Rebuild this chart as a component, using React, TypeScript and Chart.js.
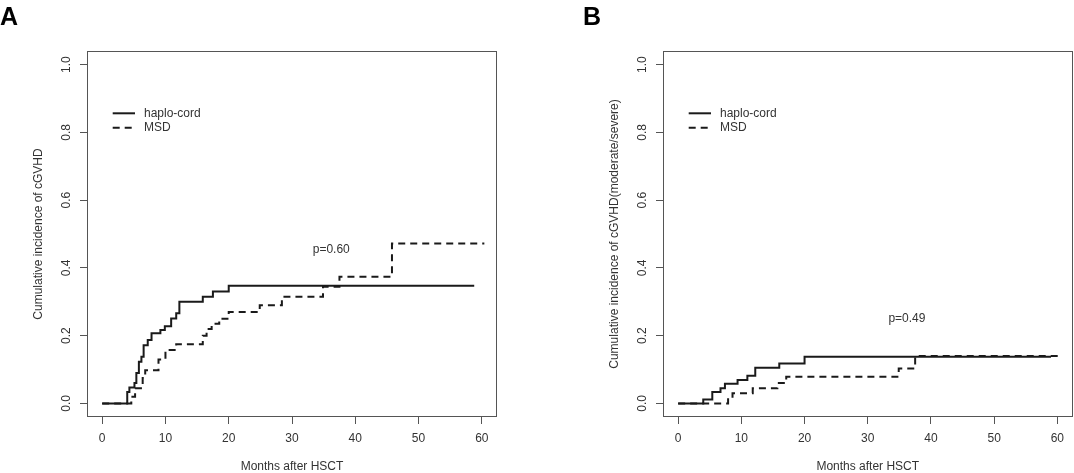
import React, { useEffect, useRef } from 'react';
import { Chart, registerables } from 'chart.js';

Chart.register(...registerables);

// ---------- data ----------
const xTicks = [0, 10, 20, 30, 40, 50, 60];
const yTicks = [0, 0.2, 0.4, 0.6, 0.8, 1.0];
const yTickLabels = ['0.0', '0.2', '0.4', '0.6', '0.8', '1.0'];
const legendLabels = ['haplo-cord', 'MSD'];
const xTitle = 'Months after HSCT';

// Panel A: cumulative incidence of cGVHD
const haploA_months = [0, 3.96, 4.3, 5.1, 5.4, 5.8, 6.2, 6.55, 7.2, 7.8, 9.2, 9.9, 10.9, 11.7, 12.2, 15.9, 17.5, 20.0, 58.8];
const haploA_inc = [0, 0.034, 0.047, 0.06, 0.09, 0.123, 0.138, 0.172, 0.187, 0.207, 0.217, 0.228, 0.251, 0.266, 0.30, 0.315, 0.33, 0.347, 0.347];
const msdA_months = [0, 4.6, 5.2, 6.4, 6.8, 8.9, 10.0, 11.7, 15.9, 16.5, 17.3, 18.5, 20.0, 24.9, 28.4, 34.9, 37.5, 45.8, 60.4];
const msdA_inc = [0, 0.02, 0.045, 0.075, 0.098, 0.13, 0.158, 0.175, 0.2, 0.22, 0.235, 0.25, 0.27, 0.29, 0.315, 0.344, 0.374, 0.472, 0.472];

// Panel B: cumulative incidence of moderate/severe cGVHD
const haploB_months = [0, 3.97, 5.4, 6.7, 7.4, 9.4, 10.95, 12.2, 16.0, 20.0, 59.0];
const haploB_inc = [0, 0.012, 0.034, 0.045, 0.058, 0.069, 0.082, 0.105, 0.118, 0.138, 0.138];
const msdB_months = [0, 7.9, 8.6, 11.8, 15.7, 17.1, 34.9, 37.5, 60.4];
const msdB_inc = [0, 0.015, 0.03, 0.045, 0.06, 0.079, 0.103, 0.14, 0.14];

const pTextA = 'p=0.60';
const pPosA = [36.2, 0.453];
const pTextB = 'p=0.49';
const pPosB = [36.2, 0.25];

// ---------- helpers ----------
const FONT = '"Liberation Sans", Arial, Helvetica, sans-serif';
const TEXT = '#333333';
const AXIS = '#555555';
const LINE = '#1a1a1a';
const DASH = [7, 5];

const toPoints = (xs: number[], ys: number[]) => xs.map((x, i) => ({ x, y: ys[i] }));

type Panel = {
  letter: string;
  letterX: number;
  yTitle: string;
  haplo: { x: number; y: number }[];
  msd: { x: number; y: number }[];
  pText: string;
  pPos: number[];
  yAxisWidth: number;
  padRight: number;
};

function makeChart(canvas: HTMLCanvasElement, panel: Panel) {
  const overlay = {
    id: 'rstyle',
    afterDraw(chart: any) {
      const ctx = chart.ctx as CanvasRenderingContext2D;
      const { left, right, top, bottom } = chart.chartArea;
      const xs = chart.scales.x;
      const ys = chart.scales.y;
      ctx.save();
      // box
      ctx.strokeStyle = AXIS;
      ctx.lineWidth = 1;
      ctx.setLineDash([]);
      ctx.strokeRect(Math.round(left) + 0.5, Math.round(top) + 0.5, Math.round(right - left) - 1, Math.round(bottom - top) - 1);

      ctx.fillStyle = TEXT;
      ctx.font = `12px ${FONT}`;
      ctx.textAlign = 'center';
      ctx.textBaseline = 'middle';
      // x tick labels
      xTicks.forEach((v) => {
        ctx.fillText(String(v), xs.getPixelForValue(v), bottom + 22);
      });
      // y tick labels (rotated)
      yTicks.forEach((v, i) => {
        ctx.save();
        ctx.translate(left - 20, ys.getPixelForValue(v));
        ctx.rotate(-Math.PI / 2);
        ctx.fillText(yTickLabels[i], 0, 0);
        ctx.restore();
      });
      // axis titles
      ctx.fillText(xTitle, (left + right) / 2, bottom + 50);
      ctx.save();
      ctx.translate(left - 48.5, (top + bottom) / 2);
      ctx.rotate(-Math.PI / 2);
      ctx.fillText(panel.yTitle, 0, 0);
      ctx.restore();

      // p value
      ctx.fillText(panel.pText, xs.getPixelForValue(panel.pPos[0]), ys.getPixelForValue(panel.pPos[1]));

      // legend
      const lx0 = left + 25.7;
      const lx1 = left + 48;
      const ly = [top + 62.3, top + 76.7];
      ctx.strokeStyle = LINE;
      ctx.lineWidth = 2;
      legendLabels.forEach((lab, i) => {
        ctx.setLineDash(i === 0 ? [] : DASH);
        ctx.beginPath();
        ctx.moveTo(lx0, ly[i]);
        ctx.lineTo(lx1, ly[i]);
        ctx.stroke();
        ctx.textAlign = 'left';
        ctx.fillText(lab, left + 57, ly[i]);
      });
      ctx.setLineDash([]);

      // panel letter
      ctx.fillStyle = '#000000';
      ctx.font = `bold 25px ${FONT}`;
      ctx.textAlign = 'left';
      ctx.textBaseline = 'alphabetic';
      ctx.fillText(panel.letter, panel.letterX, 25);
      ctx.restore();
    },
  };

  return new Chart(canvas, {
    type: 'line',
    data: {
      datasets: [
        {
          label: legendLabels[0],
          data: panel.haplo,
          borderColor: LINE,
          borderWidth: 2,
          pointRadius: 0,
          stepped: 'before',
          fill: false,
        },
        {
          label: legendLabels[1],
          data: panel.msd,
          borderColor: LINE,
          borderWidth: 2,
          borderDash: DASH,
          pointRadius: 0,
          stepped: 'before',
          fill: false,
        },
      ],
    },
    options: {
      animation: false,
      responsive: false,
      devicePixelRatio: 1,
      events: [],
      layout: { padding: { left: 0, right: panel.padRight, top: 51, bottom: 0 } },
      plugins: { legend: { display: false }, tooltip: { enabled: false }, title: { display: false } },
      scales: {
        x: {
          type: 'linear',
          min: -2.4,
          max: 62.4,
          afterBuildTicks: (s: any) => {
            s.ticks = xTicks.map((v) => ({ value: v }));
          },
          afterFit: (s: any) => {
            s.height = 56;
          },
          ticks: { display: false },
          grid: { display: true, drawOnChartArea: false, drawTicks: true, tickLength: 7, color: AXIS, lineWidth: 1 },
          border: { display: false },
        },
        y: {
          type: 'linear',
          min: -0.04,
          max: 1.04,
          afterBuildTicks: (s: any) => {
            s.ticks = yTicks.map((v) => ({ value: v }));
          },
          afterFit: (s: any) => {
            s.width = panel.yAxisWidth;
          },
          ticks: { display: false },
          grid: { display: true, drawOnChartArea: false, drawTicks: true, tickLength: 7, color: AXIS, lineWidth: 1 },
          border: { display: false },
        },
      },
    },
    plugins: [overlay],
  } as any);
}

export default function App() {
  const refA = useRef<HTMLCanvasElement>(null);
  const refB = useRef<HTMLCanvasElement>(null);

  useEffect(() => {
    const a = makeChart(refA.current!, {
      letter: 'A',
      letterX: 0,
      yTitle: 'Cumulative incidence of cGVHD',
      haplo: toPoints(haploA_months, haploA_inc),
      msd: toPoints(msdA_months, msdA_inc),
      pText: pTextA,
      pPos: pPosA,
      yAxisWidth: 87,
      padRight: 40,
    });
    const b = makeChart(refB.current!, {
      letter: 'B',
      letterX: 46,
      yTitle: 'Cumulative incidence of cGVHD(moderate/severe)',
      haplo: toPoints(haploB_months, haploB_inc),
      msd: toPoints(msdB_months, msdB_inc),
      pText: pTextB,
      pPos: pPosB,
      yAxisWidth: 126,
      padRight: 1.5,
    });
    return () => {
      a.destroy();
      b.destroy();
    };
  }, []);

  return (
    <div style={{ position: 'fixed', left: 0, top: 0, width: 1074, height: 473, background: '#ffffff' }}>
      <canvas ref={refA} width={537} height={473} style={{ position: 'absolute', left: 0, top: 0, width: 537, height: 473 }} />
      <canvas ref={refB} width={537} height={473} style={{ position: 'absolute', left: 537, top: 0, width: 537, height: 473 }} />
    </div>
  );
}
